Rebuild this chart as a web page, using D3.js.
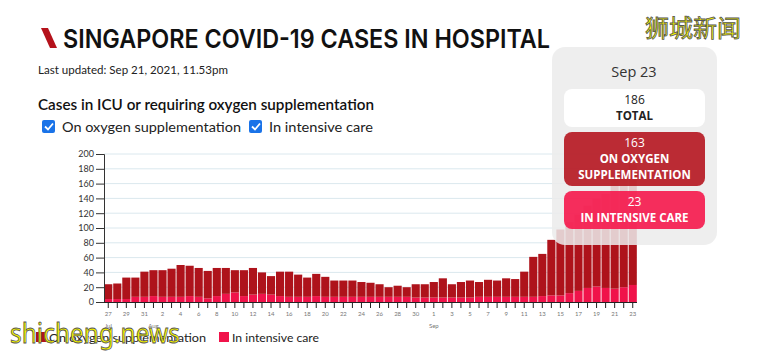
<!DOCTYPE html>
<html lang="en">
<head>
<meta charset="utf-8">
<title>Singapore COVID-19 cases in hospital</title>
<script src="https://cdn.jsdelivr.net/npm/d3@7"></script>
<style>
  body { margin: 0; background: #fff; }
  svg { display: block; font-family: "Lato", "Noto Sans", sans-serif; }
</style>
</head>
<body>
<svg width="760" height="354"></svg>
<script>
// daily values, Jul 27 - Sep 23 2021
const dates = [
  "2021-07-27","2021-07-28","2021-07-29","2021-07-30","2021-07-31",
  "2021-08-01","2021-08-02","2021-08-03","2021-08-04","2021-08-05","2021-08-06","2021-08-07","2021-08-08",
  "2021-08-09","2021-08-10","2021-08-11","2021-08-12","2021-08-13","2021-08-14","2021-08-15","2021-08-16",
  "2021-08-17","2021-08-18","2021-08-19","2021-08-20","2021-08-21","2021-08-22","2021-08-23","2021-08-24",
  "2021-08-25","2021-08-26","2021-08-27","2021-08-28","2021-08-29","2021-08-30","2021-08-31",
  "2021-09-01","2021-09-02","2021-09-03","2021-09-04","2021-09-05","2021-09-06","2021-09-07","2021-09-08",
  "2021-09-09","2021-09-10","2021-09-11","2021-09-12","2021-09-13","2021-09-14","2021-09-15","2021-09-16",
  "2021-09-17","2021-09-18","2021-09-19","2021-09-20","2021-09-21","2021-09-22","2021-09-23"
];
const oxygen = [
  20, 21, 29, 26, 34,
  35, 36, 38, 43, 41, 39, 37, 38, 35, 30, 35, 36, 29, 25, 33, 34, 30, 26, 30, 27,
  22, 22, 22, 20, 19, 17, 13, 15, 13, 18, 18,
  21, 26, 18, 21, 23, 20, 23, 22, 25, 24, 34, 54, 57, 75, 89, 96, 103, 111, 119, 127,
  147, 152, 163
];
const icu = [
  4, 4, 4, 7, 7,
  8, 7, 7, 7, 8, 7, 5, 8, 11, 13, 8, 10, 11, 10, 8, 7, 7, 7, 8, 7,
  7, 7, 7, 7, 7, 7, 7, 7, 7, 6, 6,
  6, 6, 6, 6, 6, 7, 7, 7, 7, 7, 7, 7, 8, 9, 9, 12, 15, 19, 21, 19,
  18, 20, 23
];
const yTicks = [0, 20, 40, 60, 80, 100, 120, 140, 160, 180, 200];
const seriesNames = ["On oxygen supplementation", "In intensive care"];

const oxyColor = "#ae131b";
const icuColor = "#f0134a";

const svg = d3.select("svg");
const parse = d3.timeParse("%Y-%m-%d");
const rows = dates.map((d, i) => ({date: parse(d), key: d, oxygen: oxygen[i], icu: icu[i]}));

// header
svg.append("path")
   .attr("d", "M41,28 L48,28 L57,48 L50,48 Z")
   .attr("fill", "#b5121b");
svg.append("text")
   .attr("x", 63).attr("y", 48)
   .attr("font-family", "Inter, sans-serif")
   .attr("font-size", 26).attr("font-weight", 600)
   .attr("fill", "#111")
   .attr("textLength", 487).attr("lengthAdjust", "spacingAndGlyphs")
   .text("SINGAPORE COVID-19 CASES IN HOSPITAL");
svg.append("text")
   .attr("x", 38).attr("y", 74)
   .attr("font-size", 12).attr("fill", "#222")
   .attr("textLength", 190).attr("lengthAdjust", "spacingAndGlyphs")
   .text("Last updated: Sep 21, 2021, 11.53pm");
svg.append("text")
   .attr("x", 38).attr("y", 110)
   .attr("font-size", 16).attr("font-weight", 600).attr("fill", "#111")
   .attr("textLength", 336).attr("lengthAdjust", "spacingAndGlyphs")
   .text("Cases in ICU or requiring oxygen supplementation");

// checkboxes
const checks = [{x: 42, label: seriesNames[0], tx: 62, w: 179}, {x: 249, label: seriesNames[1], tx: 269, w: 104}];
checks.forEach(c => {
  svg.append("rect").attr("x", c.x).attr("y", 120).attr("width", 13).attr("height", 13)
     .attr("rx", 2).attr("fill", "#1a73e8");
  svg.append("path").attr("d", `M${c.x + 3},${126.5} l3,3 l5,-6`)
     .attr("fill", "none").attr("stroke", "#fff").attr("stroke-width", 1.8);
  svg.append("text").attr("x", c.tx).attr("y", 132)
     .attr("font-size", 13.5).attr("fill", "#222")
     .attr("textLength", c.w).attr("lengthAdjust", "spacingAndGlyphs")
     .text(c.label);
});

// chart
const plotL = 104, plotR = 637, plotT = 154, plotB = 302;
const x = d3.scaleBand().domain(dates).range([plotL, plotR]).paddingInner(0.1).paddingOuter(0.02);
const y = d3.scaleLinear().domain([0, 200]).range([plotB, plotT]);

svg.append("g").selectAll("line")
   .data(yTicks.slice(1))
   .join("line")
   .attr("x1", plotL).attr("x2", plotR)
   .attr("y1", d => y(d)).attr("y2", d => y(d))
   .attr("stroke", "#dbe8ee").attr("stroke-width", 1);

const stack = d3.stack().keys(["icu", "oxygen"])(rows);
const colors = {icu: icuColor, oxygen: oxyColor};
svg.append("g").selectAll("g")
   .data(stack)
   .join("g")
   .attr("fill", s => colors[s.key])
   .selectAll("rect")
   .data(s => s)
   .join("rect")
   .attr("x", d => x(d.data.key))
   .attr("width", x.bandwidth())
   .attr("y", d => y(d[1]))
   .attr("height", d => y(d[0]) - y(d[1]));

const yAxis = svg.append("g")
   .attr("transform", `translate(${plotL},0)`)
   .call(d3.axisLeft(y).tickValues(yTicks).tickSize(8).tickPadding(2));
yAxis.select(".domain").attr("stroke", "#333");
yAxis.selectAll(".tick line").attr("stroke", "#333");
yAxis.selectAll("text").attr("font-size", 9).attr("fill", "#333")
     .attr("font-family", "Lato, sans-serif");

const fmtDay = d3.timeFormat("%-d");
const xAxis = svg.append("g")
   .attr("transform", `translate(0,${plotB})`)
   .call(d3.axisBottom(x).tickSize(6).tickPadding(4)
     .tickFormat((d, i) => i % 2 === 0 ? fmtDay(parse(d)) : ""));
xAxis.select(".domain").attr("stroke", "#222").attr("d", `M${plotL},0.5H${plotR}`);
xAxis.selectAll(".tick line").attr("stroke", "#222");
xAxis.selectAll("text").attr("font-size", 6).attr("fill", "#777")
     .attr("font-family", "Lato, sans-serif");

// month labels under the first day of each month shown
const monthFmt = d3.timeFormat("%b");
rows.filter((r, i) => i === 0 || r.date.getDate() === 1).forEach(r => {
  svg.append("text")
     .attr("x", x(r.key) + x.bandwidth() / 2).attr("y", 328)
     .attr("text-anchor", "middle").attr("font-size", 6).attr("fill", "#777")
     .text(monthFmt(r.date));
});

// legend
const legend = [{x: 36, c: oxyColor, label: seriesNames[0], w: 157}, {x: 219, c: icuColor, label: seriesNames[1], w: 87}];
legend.forEach(l => {
  svg.append("rect").attr("x", l.x).attr("y", 332).attr("width", 10).attr("height", 10).attr("fill", l.c);
  svg.append("text").attr("x", l.x + 13).attr("y", 342)
     .attr("font-size", 12).attr("fill", "#222")
     .attr("textLength", l.w).attr("lengthAdjust", "spacingAndGlyphs")
     .text(l.label);
});

// tooltip for the last day
const last = rows[rows.length - 1];
const tip = svg.append("g").attr("font-family", "'Open Sans', 'Noto Sans', sans-serif");
tip.append("rect").attr("x", 552).attr("y", 47).attr("width", 165).attr("height", 198)
   .attr("rx", 13).attr("fill", "#ebebeb").attr("opacity", 0.86);
tip.append("text").attr("x", 634).attr("y", 77).attr("text-anchor", "middle")
   .attr("font-size", 14.5).attr("fill", "#333").text(d3.timeFormat("%b %-d")(last.date));
const boxes = [
  {y: 89, h: 38, fill: "#ffffff", tc: "#222", lines: [String(last.oxygen + last.icu), "TOTAL"]},
  {y: 132, h: 54, fill: "#b5151f", tc: "#fff", lines: [String(last.oxygen), "ON OXYGEN", "SUPPLEMENTATION"]},
  {y: 191, h: 38, fill: "#f5174b", tc: "#fff", lines: [String(last.icu), "IN INTENSIVE CARE"]}
];
boxes.forEach(b => {
  tip.append("rect").attr("x", 564).attr("y", b.y).attr("width", 141).attr("height", b.h)
     .attr("rx", 8).attr("fill", b.fill).attr("opacity", b.fill === "#ffffff" ? 1 : 0.9);
  b.lines.forEach((t, i) => {
    tip.append("text").attr("x", 634.5).attr("y", b.y + 15 + i * 16)
       .attr("text-anchor", "middle").attr("fill", b.tc)
       .attr("font-size", i === 0 ? 12 : 11.5).attr("font-weight", i === 0 ? 400 : 700)
       .text(t);
  });
});

// watermarks
svg.append("text").attr("x", 10).attr("y", 343)
   .attr("font-family", "'Noto Sans', sans-serif").attr("font-size", 27)
   .attr("fill", "#f4f400").attr("stroke", "#555").attr("stroke-width", 0.8)
   .attr("textLength", 170).attr("lengthAdjust", "spacingAndGlyphs")
   .text("shicheng.news");
svg.append("text").attr("x", 645).attr("y", 37)
   .attr("font-family", "'Noto Sans CJK SC', sans-serif").attr("font-size", 24)
   .attr("fill", "#f4f400").attr("stroke", "#555").attr("stroke-width", 0.8)
   .text("狮城新闻");
</script>
</body>
</html>
